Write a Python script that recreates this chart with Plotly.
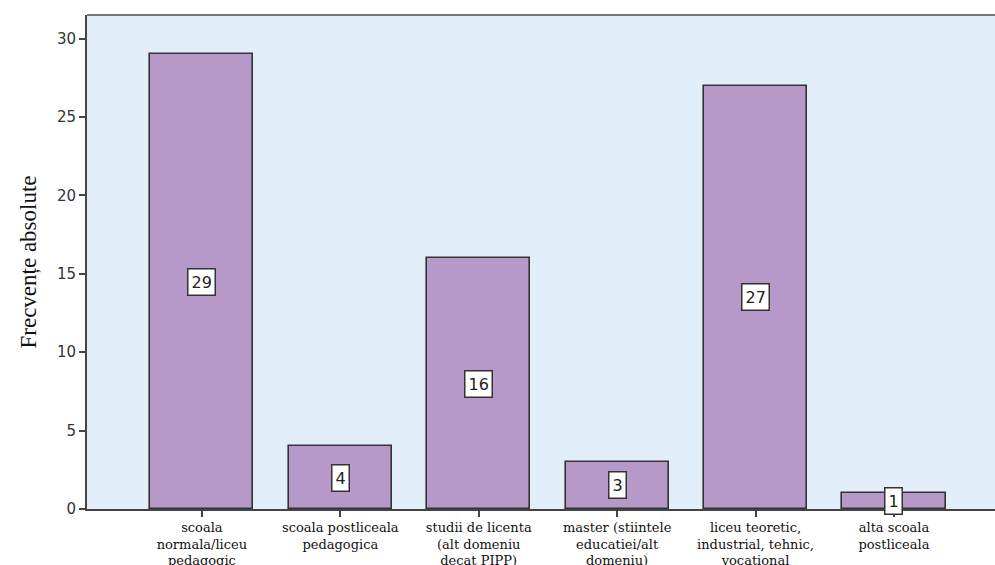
import plotly.graph_objects as go

categories = [
    "scoala<br>normala/liceu<br>pedagogic",
    "scoala postliceala<br>pedagogica",
    "studii de licenta<br>(alt domeniu<br>decat PIPP)",
    "master (stiintele<br>educatiei/alt<br>domeniu)",
    "liceu teoretic,<br>industrial, tehnic,<br>vocational",
    "alta scoala<br>postliceala",
]
counts = [29, 4, 16, 3, 27, 1]

BAR_COLOR = "#b699c8"
BG_COLOR = "#e2eefa"
AXIS_COLOR = "#444444"

x = list(range(len(categories)))

fig = go.Figure()
fig.add_trace(go.Bar(
    x=x, y=counts, width=0.745,
    marker=dict(color=BAR_COLOR, line=dict(color="#333333", width=1.6)),
    hoverinfo="skip",
))

# value boxes in the middle of every bar
for xi, v in zip(x, counts):
    fig.add_annotation(
        x=xi, y=v / 2, text=str(v), showarrow=False,
        font=dict(family="DejaVu Sans", size=16, color="#222222"),
        bgcolor="white", bordercolor="#333333", borderwidth=1.5, borderpad=3,
    )

# top border of the plot frame
fig.add_shape(type="line", xref="paper", yref="paper", x0=0, x1=1, y0=1, y1=1,
              line=dict(color="#777777", width=2))

fig.update_xaxes(
    range=[-0.83, 5.73], tickvals=x, ticktext=categories,
    showline=True, linecolor=AXIS_COLOR, linewidth=2,
    ticks="outside", ticklen=6, tickcolor=AXIS_COLOR, tickwidth=1.5,
    tickfont=dict(family="DejaVu Serif", size=13, color="#111111"),
    ticklabelstandoff=-1,
    showgrid=False, zeroline=False, fixedrange=True, automargin=False,
)
fig.update_yaxes(
    range=[0, 31.5], tickvals=[0, 5, 10, 15, 20, 25, 30],
    showline=True, linecolor=AXIS_COLOR, linewidth=2,
    ticks="outside", ticklen=6, tickcolor=AXIS_COLOR, tickwidth=1.5,
    tickfont=dict(family="DejaVu Sans", size=15, color="#333333"),
    showgrid=False, zeroline=False, automargin=False,
    title=dict(text="Frecvențe absolute", standoff=14,
               font=dict(family="Liberation Serif", size=23, color="#111111")),
)

fig.update_layout(
    width=995, height=565,
    margin=dict(l=87, r=0, t=15, b=56),
    plot_bgcolor=BG_COLOR, paper_bgcolor="white",
    showlegend=False, bargap=0,
)

fig.write_html(
    "out.html",
    config={"displayModeBar": False},
    post_script="document.body.style.margin='0';document.body.style.overflow='hidden';",
)
